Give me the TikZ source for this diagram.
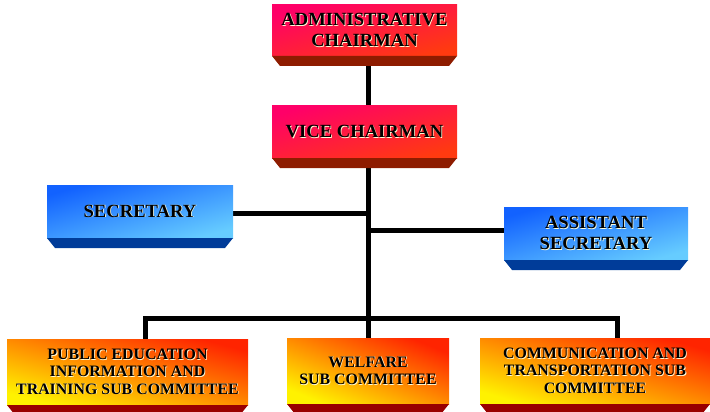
\documentclass[tikz,border=0pt]{standalone}
\usepackage{fontspec}
\setmainfont{Liberation Serif}
\usetikzlibrary{backgrounds}
\definecolor{redA}{HTML}{FF0068}
\definecolor{redM}{HTML}{FF1050}
\definecolor{redB}{HTML}{FF3A10}
\definecolor{redS}{HTML}{8E1C00}
\definecolor{bluA}{HTML}{1262FF}
\definecolor{bluM}{HTML}{3C98FF}
\definecolor{bluB}{HTML}{66CCFF}
\definecolor{bluS}{HTML}{003C99}
\definecolor{yelA}{HTML}{FF2400}
\definecolor{yelM}{HTML}{FFA000}
\definecolor{yelB}{HTML}{FFF200}
\definecolor{yelS}{HTML}{990000}
\newcommand\boxstrip[2]{\fill[#2] (#1.south west) -- (#1.south east) -- ([xshift=-8pt,yshift=-10pt]#1.south east) -- ([xshift=8pt,yshift=-10pt]#1.south west) -- cycle;}
\newcommand\sh[1]{\leavevmode\rlap{\kern0.8pt\raisebox{-0.8pt}{\textcolor{white!85!yellow}{#1}}}#1}
\begin{document}
\begin{tikzpicture}[x=1pt,y=-1pt,
  orgbox/.style={inner sep=0pt, outer sep=0pt, align=center, font=\bfseries, text=black},
  redbox/.style={orgbox, top color=redA, middle color=redM, bottom color=redB, shading angle=15, font=\fontsize{18.6}{20.5}\selectfont\bfseries},
  bluebox/.style={orgbox, top color=bluA, middle color=bluM, bottom color=bluB, shading angle=16, font=\fontsize{18.6}{20.5}\selectfont\bfseries},
  yelbox/.style={orgbox, top color=yelA, middle color=yelM, bottom color=yelB, font=\fontsize{15.9}{17.3}\selectfont\bfseries},
  conn/.style={line width=5pt, black, line join=miter}]
\useasboundingbox (0,0) rectangle (710,412);
\node[redbox, minimum width=185pt, minimum height=51pt] (admin) at (364.5,30.5) {\sh{ADMINISTRATIVE}\\\sh{CHAIRMAN}};
\node[redbox, minimum width=185pt, minimum height=52pt] (vice) at (364.5,132) {\sh{VICE CHAIRMAN}};
\node[bluebox, minimum width=186pt, minimum height=53pt] (sec) at (140,211.5) {\sh{SECRETARY}};
\node[bluebox, minimum width=184pt, minimum height=53pt] (asst) at (596,233.5) {\sh{ASSISTANT}\\\sh{SECRETARY}};
\node[yelbox, shading angle=-15, minimum width=241pt, minimum height=66pt] (pub) at (127.5,372) {\sh{PUBLIC EDUCATION}\\\sh{INFORMATION AND}\\\sh{TRAINING SUB COMMITTEE}};
\node[yelbox, shading angle=-22, minimum width=162pt, minimum height=66pt] (wel) at (368,371) {\sh{WELFARE}\\\sh{SUB COMMITTEE}};
\node[yelbox, shading angle=-16, minimum width=230pt, minimum height=66pt] (comm) at (595,371) {\sh{COMMUNICATION AND}\\\sh{TRANSPORTATION SUB}\\\sh{COMMITTEE}};
\coordinate (bus) at (368,318);
\boxstrip{admin}{redS}
\boxstrip{vice}{redS}
\boxstrip{sec}{bluS}
\boxstrip{asst}{bluS}
\boxstrip{pub}{yelS}
\boxstrip{wel}{yelS}
\boxstrip{comm}{yelS}
\begin{scope}[on background layer]
\draw[conn] (admin.south -| bus) -- (vice.north -| bus);
\draw[conn] (vice.south -| bus) -- (bus);
\draw[conn] ([yshift=-2pt]sec.east) -- ([yshift=-2pt]sec.east -| bus);
\draw[conn] ([yshift=3pt]asst.west) -- ([yshift=3pt]asst.west -| bus);
\draw[conn] ([xshift=18pt]pub.north) |- (bus) -| ([xshift=22pt]comm.north);
\draw[conn] (bus) -- (wel.north);
\end{scope}
\end{tikzpicture}
\end{document}
